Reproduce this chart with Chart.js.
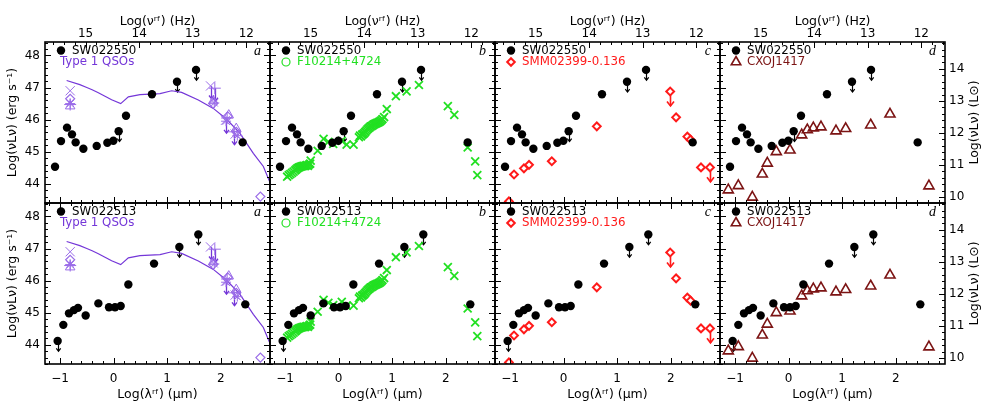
<!DOCTYPE html>
<html><head><meta charset="utf-8">
<script src="https://cdn.jsdelivr.net/npm/chart.js@4.4.1/dist/chart.umd.min.js"></script>
<style>
html,body{margin:0;padding:0;background:#fff;}
#wrap{position:relative;width:981px;height:408px;overflow:hidden;background:#fff;}
#wrap canvas{position:absolute;left:0;top:0;}
</style></head><body><div id="wrap"></div>
<script>
// ---- axis ranges and tick labels ----
const xRange = [-1.28, 2.92];          // Log(lambda_rf) [micron]
const yRange = [43.4, 48.42];          // Log(nu L_nu) [erg/s]
const logC = 14.477;                   // log10(c in micron/s): Log(nu) = logC - Log(lambda)
const logLsun = 33.583;                // log10(L_sun in erg/s)
const panelLetters = ['a', 'b', 'c', 'd'];
const xTitle = 'Log(λʳᶠ) (μm)';
const nuTitle = 'Log(νʳᶠ) (Hz)';
const yTitle = 'Log(νLν) (erg s⁻¹)';
const y2Title = 'Log(νLν) (L⊙)';

// ---- SW022550 (top row) ----
const sw022550X = [-1.093,-0.981,-0.869,-0.776,-0.708,-0.564,-0.315,-0.116,-0.004,0.095,0.232,0.717,1.184,1.539,2.41];
const sw022550Y = [44.53,45.33,45.75,45.54,45.29,45.09,45.18,45.28,45.34,45.64,46.12,46.79,47.18,47.55,45.29];
const sw022550Lim = [0,0,0,0,0,0,0,0,0,1,0,0,1,1,0];

// ---- SW022513 (bottom row) ----
const sw022513X = [-1.044,-0.938,-0.832,-0.739,-0.664,-0.521,-0.284,-0.085,0.027,0.133,0.276,0.755,1.228,1.582,2.459];
const sw022513Y = [44.12,44.62,44.98,45.08,45.15,44.91,45.29,45.17,45.17,45.21,45.88,46.53,47.05,47.44,45.26];
const sw022513Lim = [1,0,0,0,0,0,0,0,0,0,0,0,1,1,0];

// ---- Type 1 QSOs template (panel a) ----
const qsoLineX = [-0.876,-0.63,-0.50,-0.40,-0.284,-0.036,0.133,0.276,0.493,0.867,1.085,1.271,1.582,1.862,2.111,2.36,2.609,2.796,2.95];
const qsoLineY = [47.22,47.09,47.00,46.93,46.84,46.62,46.50,46.71,46.78,46.81,46.90,46.85,46.61,46.35,46.01,45.57,44.95,44.54,43.92];
const qsoXmarkX = [-0.81, 1.81, 2.09, 2.27];
const qsoXmarkY = [46.90, 47.05, 45.98, 45.55];
const qsoXmarkLim = [0, 1, 1, 0];
const qsoPlusX = [-0.81, 1.89, 2.12, 2.25];
const qsoPlusY = [46.47, 46.98, 46.05, 45.62];
const qsoPlusLim = [0, 1, 0, 1];
const qsoDiamX = [-0.81, 1.86, 2.13, 2.29, 2.74];
const qsoDiamY = [46.65, 46.50, 46.10, 45.62, 43.60];
const qsoTriX = [-0.81, 1.86, 2.15, 2.29];
const qsoTriY = [46.42, 46.58, 46.14, 45.72];
const qsoStarX = [-0.81, 1.88, 2.10, 2.31];
const qsoStarY = [46.50, 46.52, 45.95, 45.50];

// ---- F10214+4724 (panel b) ----
const f10214X = [-0.96,-0.93,-0.90,-0.87,-0.84,-0.81,-0.79,-0.77,-0.75,-0.73,-0.71,-0.69,-0.67,-0.65,-0.63,-0.61,-0.59,-0.57,-0.55,-0.53,-0.52,
  -0.39,-0.28,-0.19,-0.10,0.06,0.15,0.28,
  0.38,0.40,0.42,0.44,0.46,0.48,0.50,0.52,0.54,0.56,0.58,0.60,0.62,0.64,0.66,0.68,0.70,0.72,0.74,0.76,0.78,0.80,0.82,0.85,0.90,
  1.07,1.27,1.50,2.04,2.16,2.41,2.55,2.59];
const f10214Y = [44.22,44.27,44.30,44.34,44.38,44.42,44.45,44.48,44.50,44.52,44.53,44.54,44.55,44.56,44.55,44.57,44.58,44.56,44.60,44.63,44.72,
  45.03,45.40,45.31,45.24,45.34,45.22,45.22,
  45.45,45.50,45.48,45.53,45.55,45.58,45.62,45.66,45.70,45.73,45.76,45.79,45.80,45.83,45.85,45.87,45.88,45.90,45.91,45.93,45.95,45.98,46.02,46.08,46.33,
  46.73,46.88,47.08,46.42,46.15,45.13,44.70,44.27];

// ---- SMM02399-0.136 (panel c) ----
const smmX = [-1.02,-0.925,-0.74,-0.645,-0.22,0.62,1.99,2.10,2.31,2.37,2.565,2.733];
const smmY = [43.45,44.29,44.48,44.59,44.70,45.79,46.875,46.07,45.47,45.375,44.51,44.51];
const smmLim = [0,0,0,0,0,0,1,0,0,0,0,1];

// ---- CXOJ1417 (panel d) ----
const cxoX = [-1.125,-0.938,-0.677,-0.49,-0.397,-0.229,0.027,0.245,0.35,0.462,0.605,0.885,1.066,1.533,1.893,2.62];
const cxoY = [43.805,43.94,43.58,44.30,44.64,45.00,45.05,45.52,45.68,45.74,45.77,45.645,45.72,45.83,46.17,43.93];

// ---- colours / fonts ----
const PURPLE = '#7436d8', PURPLE_L = '#9a6ce8', GREEN = '#22e022', RED = '#ff1a1a', MAROON = '#7c1414';
const FAM = '"DejaVu Sans", Verdana, sans-serif';
const tickFont = {family: FAM, size: 12};
const titleFont = {family: FAM, size: 12.5};
const LEGEND_PX = 11.8;

const pts = (xs, ys) => xs.map((x, i) => ({x: x, y: ys[i]}));
const fmt = v => (v < 0 ? '\u2212' + Math.abs(v) : String(v));

// ---- plugins ----
const arrowPlugin = {
  id: 'ulArrows',
  beforeDatasetsDraw(chart) {
    const ctx = chart.ctx, ys = chart.scales.y;
    chart.data.datasets.forEach((ds, i) => {
      if (!ds.limits) return;
      const meta = chart.getDatasetMeta(i);
      ctx.save();
      ctx.strokeStyle = ds.arrowColor; ctx.lineWidth = ds.arrowWidth || 1.2;
      ds.limits.forEach((l, j) => {
        if (!l) return;
        const p = meta.data[j];
        const x = Math.round(p.x) + 0.5;
        const y1 = ys.getPixelForValue(ds.data[j].y - ds.arrowLen);
        const h = ds.arrowHead;
        ctx.beginPath(); ctx.moveTo(x, p.y); ctx.lineTo(x, y1); ctx.stroke();
        ctx.beginPath(); ctx.moveTo(x - h, y1 - h * 1.3); ctx.lineTo(x, y1); ctx.lineTo(x + h, y1 - h * 1.3); ctx.stroke();
      });
      ctx.restore();
    });
  }
};

function tickSet(scale, minor) {
  const out = [];
  const k0 = Math.ceil(scale.min / minor - 1e-6), k1 = Math.floor(scale.max / minor + 1e-6);
  for (let k = k0; k <= k1; k++) {
    const v = k * minor;
    out.push({px: scale.getPixelForValue(v), major: Math.abs(v - Math.round(v)) < 1e-6});
  }
  return out;
}

const framePlugin = {
  id: 'frameTicks',
  afterDatasetsDraw(chart, args, opts) {
    const {ctx, chartArea: a, scales} = chart;
    ctx.save();
    ctx.strokeStyle = '#000'; ctx.lineWidth = 1;
    const MAJ = 6, MIN = 3;
    tickSet(scales.x, 0.2).forEach(t => { const x = Math.round(t.px) + 0.5; ctx.beginPath(); ctx.moveTo(x, a.bottom); ctx.lineTo(x, a.bottom - (t.major ? MAJ : MIN)); ctx.stroke(); });
    const topScale = scales.x2 || scales.x;
    tickSet(topScale, 0.2).forEach(t => { const x = Math.round(t.px) + 0.5; ctx.beginPath(); ctx.moveTo(x, a.top); ctx.lineTo(x, a.top + (t.major ? MAJ : MIN)); ctx.stroke(); });
    tickSet(scales.y, 0.2).forEach(t => { const y = Math.round(t.px) + 0.5; ctx.beginPath(); ctx.moveTo(a.left, y); ctx.lineTo(a.left + (t.major ? MAJ : MIN), y); ctx.stroke(); });
    const rScale = scales.y2 || scales.y;
    tickSet(rScale, 0.2).forEach(t => { const y = Math.round(t.px) + 0.5; ctx.beginPath(); ctx.moveTo(a.right, y); ctx.lineTo(a.right - (t.major ? MAJ : MIN), y); ctx.stroke(); });
    ctx.lineWidth = 1.6;
    ctx.strokeRect(a.left, a.top, a.right - a.left, a.bottom - a.top);
    ctx.restore();
  }
};

function drawMarker(ctx, kind, x, y, color) {
  ctx.save();
  ctx.strokeStyle = color; ctx.fillStyle = color;
  ctx.beginPath();
  if (kind === 'dot') { ctx.arc(x, y, 4.2, 0, Math.PI * 2); ctx.fill(); }
  else if (kind === 'ring') { ctx.lineWidth = 1.2; ctx.arc(x, y, 4, 0, Math.PI * 2); ctx.stroke(); }
  else if (kind === 'diamond') { ctx.lineWidth = 2; ctx.moveTo(x - 3.8, y); ctx.lineTo(x, y - 3.8); ctx.lineTo(x + 3.8, y); ctx.lineTo(x, y + 3.8); ctx.closePath(); ctx.stroke(); }
  else if (kind === 'tri') { ctx.lineWidth = 1.6; const r = 5.5; ctx.moveTo(x, y - r); ctx.lineTo(x + r * 0.866, y + r * 0.5); ctx.lineTo(x - r * 0.866, y + r * 0.5); ctx.closePath(); ctx.stroke(); }
  ctx.restore();
}

const legendPlugin = {
  id: 'panelLegend',
  afterDraw(chart, args, o) {
    const {ctx, chartArea: a} = chart;
    ctx.save();
    ctx.font = LEGEND_PX + 'px ' + FAM;
    ctx.textBaseline = 'middle';
    o.items.forEach((it, k) => {
      const y = a.top + 8.5 + k * 11.5;
      if (it.marker) drawMarker(ctx, it.marker, a.left + 16, y, it.color);
      ctx.fillStyle = it.color;
      ctx.textAlign = 'left';
      ctx.fillText(it.text, it.marker ? a.left + 27 : a.left + 15, y);
    });
    ctx.font = 'italic 14px "Liberation Serif", "Times New Roman", serif';
    ctx.fillStyle = '#000';
    ctx.textAlign = 'right';
    ctx.fillText(o.letter, a.right - 9, a.top + 9);
    if (o.rightTitle) {
      ctx.font = titleFont.size + 'px ' + FAM;
      ctx.textAlign = 'center';
      ctx.translate(974.5, (a.top + a.bottom) / 2);
      ctx.rotate(-Math.PI / 2);
      ctx.fillText(o.rightTitle, 0, 0);
    }
    ctx.restore();
  }
};

// ---- panel builder ----
const wrap = document.getElementById('wrap');
function buildPanel(col, row) {
  const canvas = document.createElement('canvas');
  canvas.width = 981; canvas.height = 408;
  canvas.style.width = '981px'; canvas.style.height = '408px';
  wrap.appendChild(canvas);
  const left = 45 + 225 * col, top = 42 + 161 * row, right = left + 225, bottom = top + 161;
  const isTop = row === 0;
  const bX = isTop ? sw022550X : sw022513X, bY = isTop ? sw022550Y : sw022513Y, bL = isTop ? sw022550Lim : sw022513Lim;
  const bName = isTop ? 'SW022550' : 'SW022513';

  const datasets = [{
    label: bName, data: pts(bX, bY), pointStyle: 'circle', pointRadius: 4.2,
    backgroundColor: '#000', borderColor: '#000', borderWidth: 0,
    limits: bL, arrowLen: 0.32, arrowHead: 2.2, arrowColor: '#000', arrowWidth: 1.2
  }];
  let items = [{marker: 'dot', color: '#000', text: bName}];

  if (col === 0) {
    const mk = (xs, ys, style, r, w, lim) => ({
      label: 'Type 1 QSOs', data: pts(xs, ys), pointStyle: style, pointRadius: r,
      backgroundColor: 'rgba(0,0,0,0)', borderColor: PURPLE_L, borderWidth: w,
      limits: lim, arrowLen: 0.4, arrowHead: 2.5, arrowColor: PURPLE, arrowWidth: 1.3
    });
    datasets.push(mk(qsoXmarkX, qsoXmarkY, 'crossRot', 6.5, 1, qsoXmarkLim));
    datasets.push(mk(qsoPlusX, qsoPlusY, 'cross', 6, 1, qsoPlusLim));
    datasets.push(mk(qsoDiamX, qsoDiamY, 'rectRot', 4.5, 1.2, null));
    datasets.push(mk(qsoTriX, qsoTriY, 'triangle', 5.5, 1, null));
    datasets.push(mk(qsoStarX, qsoStarY, 'star', 5, 1, null));
    datasets.push({
      label: 'Type 1 QSOs template', data: pts(qsoLineX, qsoLineY), showLine: true,
      pointRadius: 0, borderColor: PURPLE, borderWidth: 1.2, tension: 0
    });
    items.push({marker: null, color: PURPLE, text: 'Type 1 QSOs'});
  } else if (col === 1) {
    datasets.push({
      label: 'F10214+4724', data: pts(f10214X, f10214Y), pointStyle: 'crossRot', pointRadius: 5.6,
      borderColor: GREEN, backgroundColor: GREEN, borderWidth: 1.8
    });
    items.push({marker: 'ring', color: GREEN, text: 'F10214+4724'});
  } else if (col === 2) {
    datasets.push({
      label: 'SMM02399-0.136', data: pts(smmX, smmY), pointStyle: 'rectRot', pointRadius: 3.9,
      borderColor: RED, backgroundColor: '#fff', borderWidth: 2,
      limits: smmLim, arrowLen: 0.45, arrowHead: 3.5, arrowColor: RED, arrowWidth: 1.6
    });
    items.push({marker: 'diamond', color: RED, text: 'SMM02399-0.136'});
  } else {
    datasets.push({
      label: 'CXOJ1417', data: pts(cxoX, cxoY), pointStyle: 'triangle', pointRadius: 5.8,
      borderColor: MAROON, backgroundColor: 'rgba(0,0,0,0)', borderWidth: 1.6
    });
    items.push({marker: 'tri', color: MAROON, text: 'CXOJ1417'});
  }

  const scales = {
    x: {
      type: 'linear', position: 'bottom', min: xRange[0], max: xRange[1],
      grid: {display: false, drawTicks: false}, border: {display: false},
      ticks: {display: !isTop, stepSize: 1, includeBounds: false, autoSkip: false, maxRotation: 0, padding: 8,
              color: '#000', font: tickFont, callback: fmt},
      title: {display: !isTop, text: xTitle, color: '#000', font: titleFont, padding: {top: 0, bottom: 6}},
      afterFit(s) { s.height = isTop ? 0 : 44; }
    },
    y: {
      type: 'linear', position: 'left', min: yRange[0], max: yRange[1],
      grid: {display: false, drawTicks: false}, border: {display: false},
      ticks: {display: col === 0, stepSize: 1, includeBounds: false, autoSkip: false, padding: 5,
              color: '#000', font: tickFont},
      title: {display: col === 0, text: yTitle, color: '#000', font: titleFont, padding: {top: 5, bottom: 0}},
      afterFit(s) { s.width = col === 0 ? 45 : 0; }
    }
  };
  if (isTop) {
    scales.x2 = {
      type: 'linear', position: 'top', reverse: true, min: logC - xRange[1], max: logC - xRange[0],
      grid: {display: false, drawTicks: false}, border: {display: false},
      ticks: {stepSize: 1, includeBounds: false, autoSkip: false, maxRotation: 0, padding: 1, color: '#000', font: tickFont},
      title: {display: true, text: nuTitle, color: '#000', font: titleFont, padding: {top: 14, bottom: 0}},
      afterFit(s) { s.height = 42; }
    };
  }
  if (col === 3) {
    scales.y2 = {
      type: 'linear', position: 'right', min: yRange[0] - logLsun, max: yRange[1] - logLsun,
      grid: {display: false, drawTicks: false}, border: {display: false},
      ticks: {stepSize: 1, includeBounds: false, autoSkip: false, padding: 4, color: '#000', font: tickFont},
      title: {display: false},
      afterFit(s) { s.width = 36; }
    };
  }

  new Chart(canvas, {
    type: 'scatter',
    data: {datasets: datasets},
    options: {
      responsive: false, animation: false, devicePixelRatio: 1,
      layout: {padding: {
        left: left - (col === 0 ? 45 : 0),
        right: 981 - right - (col === 3 ? 36 : 0),
        top: top - (isTop ? 42 : 0),
        bottom: 408 - bottom - (isTop ? 0 : 44)
      }},
      scales: scales,
      plugins: {
        legend: {display: false}, tooltip: {enabled: false},
        panelLegend: {items: items, letter: panelLetters[col], rightTitle: col === 3 ? y2Title : null}
      }
    },
    plugins: [arrowPlugin, framePlugin, legendPlugin]
  });
}

for (let r = 0; r < 2; r++) for (let c = 0; c < 4; c++) buildPanel(c, r);
</script>
</body></html>
